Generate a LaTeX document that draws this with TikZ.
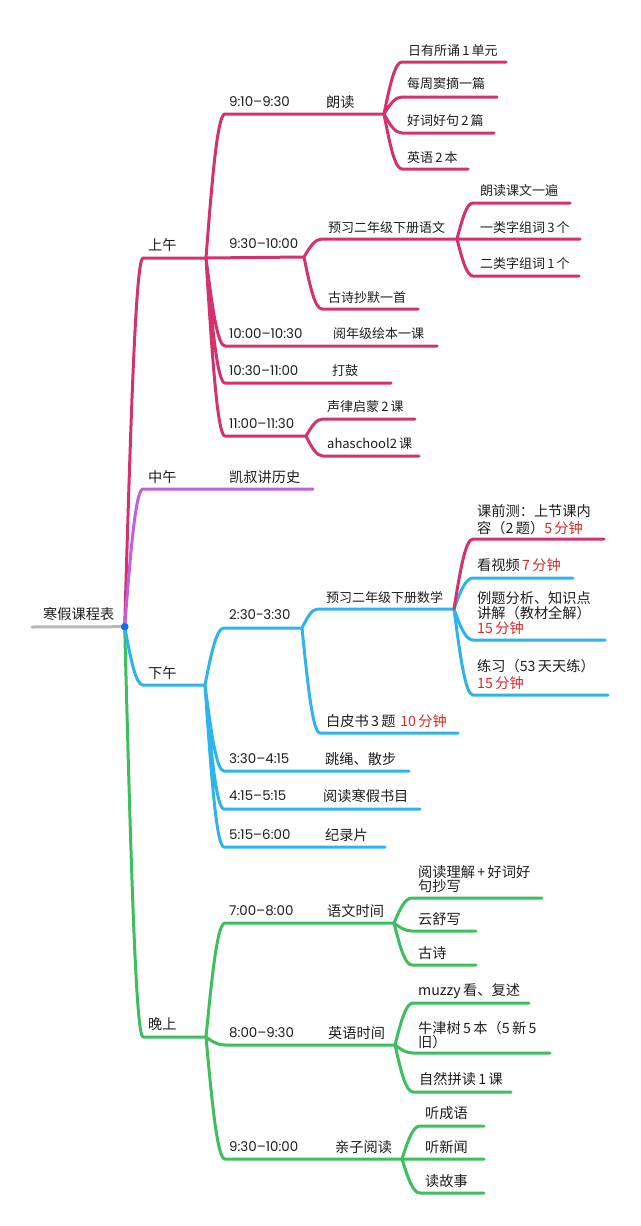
\documentclass[tikz,border=0pt]{standalone}
\usepackage{fontspec}
\setmainfont{Noto Sans CJK SC}
\newfontfamily\timefont{Poppins}
\usetikzlibrary{calc}

\definecolor{rosebr}{HTML}{D4326F}
\definecolor{lilacbr}{HTML}{BE60E2}
\definecolor{skybr}{HTML}{2DB4EE}
\definecolor{leafbr}{HTML}{3CBF5C}
\definecolor{rootbr}{HTML}{B8B8B8}
\definecolor{rootdot}{HTML}{1070F0}
\definecolor{minred}{HTML}{D42A2A}
\definecolor{inkgrey}{HTML}{1E1E1E}

\tikzset{
    lbl/.style={anchor=west,inner sep=0pt,align=left,text=inkgrey,yshift=-.7pt,font=\fontsize{14.2}{15}\selectfont},
    lblsm/.style={lbl,font=\fontsize{13}{15}\selectfont},
    lbltime/.style={lbl,font=\timefont\fontsize{13.4}{15}\selectfont},
    br/.style={line width=3pt,line cap=round,line join=round},
    twig/.style={to path={let \p1=(\tikztostart),\p2=(\tikztotarget) in
        .. controls ({\x1+.35*(\x2-\x1)},{\y1+.6*(\y2-\y1)}) and ({\x1+.62*(\x2-\x1)},\y2) .. (\tikztotarget)}},
}
\newcommand{\mins}[1]{{\color{minred}#1\,分钟}}

\begin{document}
\begin{tikzpicture}[x=1pt,y=-1pt]
    \fill[white] (0,0) rectangle (640,1226);
    \useasboundingbox (0,0) rectangle (640,1226);

    % root
    \coordinate (r_s) at (32,627);
    \node[circle,fill=rootdot,inner sep=0pt,minimum size=7.5pt] (root) at (124.7,626.7) {};
    \node[lbl] (title) at (43,613) {寒假课程表};

    % morning
    \coordinate (am_s) at (143,258);
    \coordinate (am_j) at (206,258);
    \node[lbl] (am) at (148,244) {上午};

    \coordinate (a1_s) at (225,114);
    \coordinate (a1_j) at (384,114);
    \node[lbltime] (a1_t) at (229,101) {9:10–9:30};
    \node[lbl] (a1) at (326,101) {朗读};
    \coordinate (a11_s) at (402,62);
    \coordinate (a11_e) at (506,62);
    \coordinate (a12_s) at (402,97);
    \coordinate (a12_e) at (497,97);
    \coordinate (a13_s) at (402,133);
    \coordinate (a13_e) at (494,133);
    \coordinate (a14_s) at (402,169);
    \coordinate (a14_e) at (468,169);
    \node[lblsm] (a11) at (408,50) {日有所诵\,1\,单元};
    \node[lblsm] (a12) at (407,83) {每周窦摘一篇};
    \node[lblsm] (a13) at (407,120) {好词好句\,2\,篇};
    \node[lblsm] (a14) at (407,157) {英语\,2\,本};

    \coordinate (a2_j) at (304,257);
    \node[lbltime] (a2_t) at (229,243) {9:30–10:00};
    \coordinate (a21_s) at (322,239);
    \coordinate (a21_j) at (457,239);
    \node[lblsm] (a21) at (328,227) {预习二年级下册语文};
    \coordinate (a211_s) at (473,203);
    \coordinate (a211_e) at (570,203);
    \coordinate (a212_e) at (580,239);
    \coordinate (a213_s) at (473,276);
    \coordinate (a213_e) at (579,276);
    \node[lblsm] (a211) at (480,190) {朗读课文一遍};
    \node[lblsm] (a212) at (480,227) {一类字组词\,3\,个};
    \node[lblsm] (a213) at (480,263) {二类字组词\,1\,个};
    \coordinate (a22_s) at (322,309);
    \coordinate (a22_e) at (418,309);
    \node[lblsm] (a22) at (328,297) {古诗抄默一首};

    \coordinate (a3_s) at (225,346);
    \coordinate (a3_e) at (437,346);
    \node[lbltime] (a3_t) at (229,333) {10:00–10:30};
    \node[lblsm] (a3) at (333,333) {阅年级绘本一课};
    \coordinate (a4_s) at (225,383);
    \coordinate (a4_e) at (391,383);
    \node[lbltime] (a4_t) at (229,370) {10:30–11:00};
    \node[lblsm] (a4) at (332,370) {打鼓};
    \coordinate (a5_s) at (225,436);
    \coordinate (a5_j) at (306,436);
    \node[lbltime] (a5_t) at (229,423) {11:00–11:30};
    \coordinate (a51_s) at (323,419);
    \coordinate (a51_e) at (415,419);
    \coordinate (a52_s) at (323,456);
    \coordinate (a52_e) at (419,456);
    \node[lblsm] (a51) at (327,406) {声律启蒙\,2\,课};
    \node[lblsm] (a52) at (327,443) {ahaschool2\,课};

    % noon
    \coordinate (n_s) at (143,489);
    \coordinate (n_e) at (313,489);
    \node[lbl] (n) at (148,476) {中午};
    \node[lbl] (n1) at (229,476) {凯叔讲历史};

    % afternoon
    \coordinate (pm_s) at (143,685);
    \coordinate (pm_j) at (205,685);
    \node[lbl] (pm) at (148,672) {下午};

    \coordinate (p1_s) at (224,628);
    \coordinate (p1_j) at (302,628);
    \node[lbltime] (p1_t) at (229,614) {2:30-3:30};
    \coordinate (p11_s) at (318,609);
    \coordinate (p11_j) at (454,609);
    \node[lblsm] (p11) at (326,597) {预习二年级下册数学};
    \coordinate (p111_s) at (473,539);
    \coordinate (p111_e) at (604,539);
    \coordinate (p112_s) at (473,578);
    \coordinate (p112_e) at (573,578);
    \coordinate (p113_s) at (473,640);
    \coordinate (p113_e) at (605,640);
    \coordinate (p114_s) at (473,695);
    \coordinate (p114_e) at (608,695);
    \node[lbl] (p111) at (477,518.5) {课前测：上节课内\\[2pt]容（2\,题）\mins{5}};
    \node[lbl] (p112) at (477,564) {看视频\,\mins{7}};
    \node[lbl] (p113) at (477,612) {例题分析、知识点\\讲解（教材全解）\\\mins{15}};
    \node[lbl] (p114) at (477,673.5) {练习（53\,天天练）\\[2pt]\mins{15}};
    \coordinate (p12_s) at (320,733);
    \coordinate (p12_e) at (458,733);
    \node[lbl] (p12) at (326,720) {白皮书\,3\,题\,\,\mins{10}};

    \coordinate (p2_s) at (224,771);
    \coordinate (p2_e) at (409,771);
    \node[lbltime] (p2_t) at (229,758) {3:30–4:15};
    \node[lbl] (p2) at (325,758) {跳绳、散步};
    \coordinate (p3_s) at (224,809);
    \coordinate (p3_e) at (420,809);
    \node[lbltime] (p3_t) at (229,795) {4:15–5:15};
    \node[lbl] (p3) at (323,795) {阅读寒假书目};
    \coordinate (p4_s) at (224,847);
    \coordinate (p4_e) at (385,847);
    \node[lbltime] (p4_t) at (229,834) {5:15–6:00};
    \node[lbl] (p4) at (325,834) {纪录片};

    % evening
    \coordinate (ev_s) at (143,1037);
    \coordinate (ev_j) at (206,1037);
    \node[lbl] (ev) at (148,1023) {晚上};

    \coordinate (e1_s) at (225,923);
    \coordinate (e1_j) at (394,923);
    \node[lbltime] (e1_t) at (229,910) {7:00–8:00};
    \node[lbl] (e1) at (327,910) {语文时间};
    \coordinate (e11_s) at (412,898);
    \coordinate (e11_e) at (542,898);
    \coordinate (e12_s) at (412,931);
    \coordinate (e12_e) at (476,931);
    \coordinate (e13_s) at (412,965);
    \coordinate (e13_e) at (476,965);
    \node[lbl] (e11) at (418,878) {阅读理解\,+\,好词好\\[-1pt]句抄写};
    \node[lbl] (e12) at (418,918) {云舒写};
    \node[lbl] (e13) at (418,952) {古诗};

    \coordinate (e2_s) at (225,1045);
    \coordinate (e2_j) at (395,1045);
    \node[lbltime] (e2_t) at (229,1032) {8:00–9:30};
    \node[lbl] (e2) at (328,1032) {英语时间};
    \coordinate (e21_s) at (413,1003);
    \coordinate (e21_e) at (529,1003);
    \coordinate (e22_s) at (413,1053);
    \coordinate (e22_e) at (550,1053);
    \coordinate (e23_s) at (413,1092);
    \coordinate (e23_e) at (511,1092);
    \node[lbl] (e21) at (418,990) {muzzy\,看、复述};
    \node[lbl] (e22) at (418,1034) {牛津树\,5\,本（5\,新\,5\\[-1pt]旧）};
    \node[lbl] (e23) at (419,1078) {自然拼读\,1\,课};

    \coordinate (e3_s) at (225,1159);
    \coordinate (e3_j) at (402,1159);
    \node[lbltime] (e3_t) at (229,1146) {9:30–10:00};
    \node[lbl] (e3) at (335,1146) {亲子阅读};
    \coordinate (e31_s) at (420,1126);
    \coordinate (e31_e) at (484,1126);
    \coordinate (e32_e) at (484,1159);
    \coordinate (e33_s) at (420,1193);
    \coordinate (e33_e) at (484,1193);
    \node[lbl] (e31) at (425,1112) {听成语};
    \node[lbl] (e32) at (425,1146) {听新闻};
    \node[lbl] (e33) at (425,1180) {读故事};

    \draw[br,rootbr] (r_s) -- (root.center);

    \draw[br,leafbr]
    (root.center) to[twig] (ev_s) -- (ev_j)
    (ev_j) to[twig] (e1_s) -- (e1_j)
    (ev_j) to[twig] (e2_s) -- (e2_j)
    (ev_j) to[twig] (e3_s) -- (e3_j)
    (e1_j) to[twig] (e11_s) -- (e11_e)
    (e1_j) to[twig] (e12_s) -- (e12_e)
    (e1_j) to[twig] (e13_s) -- (e13_e)
    (e2_j) to[twig] (e21_s) -- (e21_e)
    (e2_j) to[twig] (e22_s) -- (e22_e)
    (e2_j) to[twig] (e23_s) -- (e23_e)
    (e3_j) to[twig] (e31_s) -- (e31_e)
    (e3_j) -- (e32_e)
    (e3_j) to[twig] (e33_s) -- (e33_e)
    ;

    \draw[br,skybr]
    (root.center) to[twig] (pm_s) -- (pm_j)
    (pm_j) to[twig] (p1_s) -- (p1_j)
    (pm_j) to[twig] (p2_s) -- (p2_e)
    (pm_j) to[twig] (p3_s) -- (p3_e)
    (pm_j) to[twig] (p4_s) -- (p4_e)
    (p1_j) to[twig] (p11_s) -- (p11_j)
    (p1_j) to[twig] (p12_s) -- (p12_e)
    (p11_j) to[twig] (p112_s) -- (p112_e)
    (p11_j) to[twig] (p113_s) -- (p113_e)
    (p11_j) to[twig] (p114_s) -- (p114_e)
    ;

    \draw[br,rosebr]
    (root.center) to[twig] (am_s) -- (am_j)
    (am_j) to[twig] (a1_s) -- (a1_j)
    (am_j) -- (a2_j)
    (am_j) to[twig] (a3_s) -- (a3_e)
    (am_j) to[twig] (a4_s) -- (a4_e)
    (am_j) to[twig] (a5_s) -- (a5_j)
    (a1_j) to[twig] (a11_s) -- (a11_e)
    (a1_j) to[twig] (a12_s) -- (a12_e)
    (a1_j) to[twig] (a13_s) -- (a13_e)
    (a1_j) to[twig] (a14_s) -- (a14_e)
    (a2_j) to[twig] (a21_s) -- (a21_j)
    (a2_j) to[twig] (a22_s) -- (a22_e)
    (a21_j) to[twig] (a211_s) -- (a211_e)
    (a21_j) -- (a212_e)
    (a21_j) to[twig] (a213_s) -- (a213_e)
    (a5_j) to[twig] (a51_s) -- (a51_e)
    (a5_j) to[twig] (a52_s) -- (a52_e)
    (p11_j) to[twig] (p111_s) -- (p111_e)
    ;

    \draw[br,lilacbr] (root.center) to[twig] (n_s) -- (n_e);

    \node[circle,fill=rootdot,inner sep=0pt,minimum size=7.5pt] at (root.center) {};
\end{tikzpicture}
\end{document}
